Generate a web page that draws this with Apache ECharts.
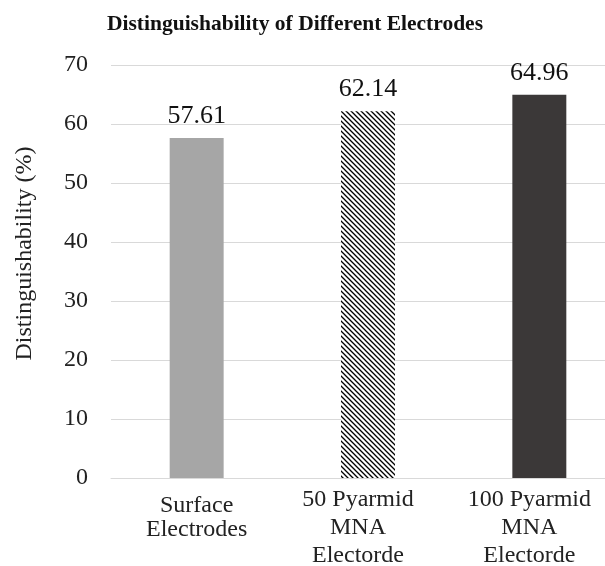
<!DOCTYPE html>
<html>
<head>
<meta charset="utf-8">
<script src="https://cdn.jsdelivr.net/npm/echarts@6/dist/echarts.min.js"></script>
<style>
  html, body { margin: 0; padding: 0; background: #fff; }
  #chart { width: 605px; height: 566px; }
</style>
</head>
<body>
<div id="chart"></div>
<script>
// Electrode types and their distinguishability (%)
const categories = ['Surface\nElectrodes', '50 Pyarmid\nMNA\nElectorde', '100 Pyarmid\nMNA\nElectorde'];
const values = [57.61, 62.14, 64.96];
const yTicks = [0, 10, 20, 30, 40, 50, 60, 70];

// Diagonal hatch pattern for the middle bar
function hatchPattern() {
  const c = document.createElement('canvas');
  const s = 5;
  c.width = s; c.height = s;
  const ctx = c.getContext('2d');
  ctx.fillStyle = '#ffffff';
  ctx.fillRect(0, 0, s, s);
  ctx.strokeStyle = '#000000';
  ctx.lineWidth = 1.3;
  ctx.beginPath();
  ctx.moveTo(-1, -1); ctx.lineTo(s + 1, s + 1);
  ctx.moveTo(-1, s - 1); ctx.lineTo(1, s + 1);
  ctx.moveTo(s - 1, -1); ctx.lineTo(s + 1, 1);
  ctx.stroke();
  return c;
}

const barFills = ['#a6a6a6', { image: hatchPattern(), repeat: 'repeat' }, '#3b3838'];
const serif = '"Liberation Serif", "DejaVu Serif", serif';

// two-line label sits a little lower and tighter; three-line labels lean slightly left
const categoryItems = categories.map(c => {
  const lines = c.split('\n').length;
  return lines === 2
    ? { value: c, textStyle: { lineHeight: 24, padding: [8, 0, 0, 0] } }
    : { value: c, textStyle: { lineHeight: 28, padding: [0, 20, 0, 0] } };
});

const chart = echarts.init(document.getElementById('chart'), null, { renderer: 'canvas' });
chart.setOption({
  backgroundColor: '#ffffff',
  animation: false,
  title: {
    text: 'Distinguishability of Different Electrodes',
    left: 290,
    textAlign: 'center',
    top: 8,
    textStyle: { fontFamily: serif, fontWeight: 'bold', fontSize: 21.5, color: '#111' }
  },
  grid: { left: 111, width: 514, top: 65, bottom: 88, outerBoundsMode: 'none', containLabel: false },
  xAxis: {
    type: 'category',
    data: categoryItems,
    axisTick: { show: false },
    axisLine: { lineStyle: { color: '#d9d9d9', width: 1 } },
    axisLabel: {
      fontFamily: serif, fontSize: 24, color: '#222', lineHeight: 28, margin: 8
    }
  },
  yAxis: {
    type: 'value',
    min: yTicks[0],
    max: yTicks[yTicks.length - 1],
    interval: 10,
    name: 'Distinguishability (%)',
    nameLocation: 'middle',
    nameGap: 74,
    nameRotate: 90,
    nameTextStyle: { fontFamily: serif, fontSize: 24, color: '#222', padding: [0, 0, 0, 36] },
    axisLine: { show: false },
    axisTick: { show: false },
    axisLabel: { fontFamily: serif, fontSize: 24, color: '#222', margin: 23 },
    splitLine: { lineStyle: { color: '#d9d9d9', width: 1 } }
  },
  series: [{
    type: 'bar',
    barWidth: '31.5%',
    data: values.map((v, i) => ({ value: v, itemStyle: { color: barFills[i] } })),
    label: {
      show: true,
      position: 'top',
      distance: 9,
      fontFamily: serif,
      fontSize: 26,
      color: '#111',
      formatter: p => p.value.toFixed(2)
    }
  }]
});
</script>
</body>
</html>
